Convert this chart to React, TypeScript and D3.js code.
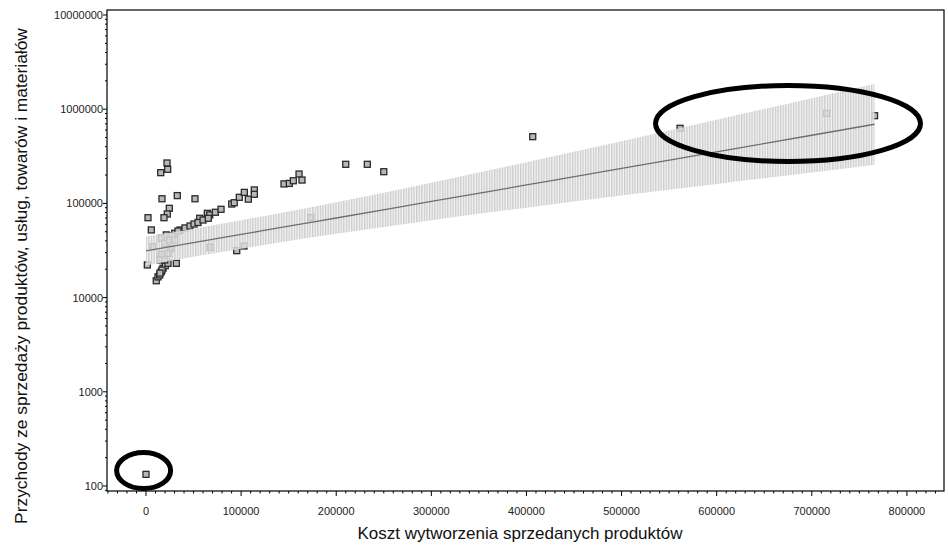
import React from "react";
import * as d3 from "d3";

// koszt (x) i przychody (y) dla kolejnych obserwacji
const costX = [
  0, 22100, 22800, 15500, 16800, 32900, 51500, 24500, 22400, 2100, 18900, 56500,
  64500, 67000, 72900, 78900, 90100, 92800, 98100, 103400, 107600, 113900, 113900,
  145100, 150700, 154900, 160900, 164000, 210000, 232700, 250000, 406600, 561500,
  715800, 766000,
  30200, 35800, 41000, 46300, 50500, 54700, 60000, 65500, 27300, 33600,
  10800, 12600, 14400, 16100, 17900, 20300, 23100, 16800, 14700,
  1400, 31900, 21300, 5600,
  7400, 16100, 19700, 24900, 30200, 26000, 23100, 16100, 15000, 19700, 67300,
  95400, 103000, 173200,
];
const revenueY = [
  133, 268500, 230000, 212000, 112000, 121000, 112000, 88700, 77200, 70500, 70500, 69500,
  78500, 75400, 80500, 86600, 98500, 101700, 116000, 131000, 111000, 139000, 125000,
  161000, 163000, 174000, 205000, 177000, 260000, 260000, 217000, 511000, 627000,
  904000, 853000,
  48200, 52200, 54900, 57500, 60400, 62700, 66600, 69500, 45100, 50900,
  15100, 16600, 17400, 18800, 20500, 21800, 23100, 19600, 18200,
  22200, 23100, 46300, 52300,
  34700, 42700, 37700, 40800, 40800, 33300, 29500, 28800, 25100, 25100, 34200,
  31500, 35300, 70500,
];

// linia dopasowania i pasmo ufności
const fitX = [0, 50000, 100000, 150000, 200000, 300000, 400000, 500000, 600000, 700000, 766000];
const fitY = [31300, 38300, 46800, 57300, 70000, 105000, 157000, 235000, 353000, 529000, 692000];
const bandLow = [21900, 27200, 33100, 40000, 47600, 66400, 90000, 121000, 161000, 213000, 258000];
const bandHigh = [44500, 53800, 66100, 82000, 102800, 166000, 274000, 458000, 774000, 1310000, 1853000];

const xTicks = [0, 100000, 200000, 300000, 400000, 500000, 600000, 700000, 800000];
const yTicks = [100, 1000, 10000, 100000, 1000000, 10000000];

const xDomain = [-41000, 839000];
const yDomain = [88.5, 11300000];

// zaznaczone elipsami obszary: środek (dane), promień x (dane), promień y (dekady)
const circledCx = [-2500, 675000];
const circledCy = [146, 705000];
const circledRx = [28400, 139300];
const circledRyDec = [0.191, 0.403];

const xTitle = "Koszt wytworzenia sprzedanych produktów";
const yTitle = "Przychody ze sprzedaży produktów, usług, towarów i materiałów";

const W = 948;
const H = 548;
const M = { left: 107, right: 4, top: 10, bottom: 57 };
const FONT = "'Liberation Sans', Arial, sans-serif";

export default function App() {
  const x = d3.scaleLinear().domain(xDomain).range([M.left, W - M.right]);
  const y = d3.scaleLog().domain(yDomain).range([H - M.bottom, M.top]);
  const [x0, x1] = x.range();
  const [yb, yt] = y.range();

  const xMinor = d3.range(-40000, xDomain[1] + 1, 10000).filter((v) => v % 100000 !== 0);
  const yMinor: number[] = [];
  [10, 100, 1000, 10000, 100000, 1000000].forEach((d) => {
    for (let k = 2; k <= 9; k++) {
      const v = d * k;
      if (v >= yDomain[0] && v <= yDomain[1]) yMinor.push(v);
    }
  });

  const bandIdx = d3.range(fitX.length);
  const area = d3
    .area<number>()
    .x((i) => x(fitX[i]))
    .y0((i) => y(bandLow[i]))
    .y1((i) => y(bandHigh[i]))
    .curve(d3.curveMonotoneX);
  const line = d3
    .line<number>()
    .x((i) => x(fitX[i]))
    .y((i) => y(fitY[i]))
    .curve(d3.curveMonotoneX);

  const s = 6;

  return (
    <svg
      width={W}
      height={H}
      style={{ position: "absolute", left: 0, top: 0, background: "#fff" }}
      fontFamily={FONT}
    >
      <defs>
        <pattern id="hatch" patternUnits="userSpaceOnUse" width={2.6} height={10}>
          <rect x={0} y={0} width={2.6} height={10} fill="#f0f0f0" opacity={0.75} />
          <rect x={0} y={0} width={1.3} height={10} fill="#cbcbcb" />
        </pattern>
        <clipPath id="plot">
          <rect x={x0} y={yt} width={x1 - x0} height={yb - yt} />
        </clipPath>
      </defs>

      <g clipPath="url(#plot)">
        {costX.map((cx, i) => (
          <rect
            key={i}
            x={x(cx) - s / 2}
            y={y(revenueY[i]) - s / 2}
            width={s}
            height={s}
            fill="#b8b8b8"
            stroke="#2b2b2b"
            strokeWidth={1.3}
          />
        ))}
        <path d={area(bandIdx) || ""} fill="url(#hatch)" />
        <path d={line(bandIdx) || ""} fill="none" stroke="#6e6e6e" strokeWidth={1.3} />
      </g>

      {/* ramka */}
      <rect x={x0} y={yt} width={x1 - x0} height={yb - yt} fill="none" stroke="#000" strokeWidth={1.2} />

      {/* oś X */}
      {xMinor.map((v) => (
        <line key={"xm" + v} x1={x(v)} x2={x(v)} y1={yb} y2={yb + 2.5} stroke="#000" />
      ))}
      {xTicks.map((v) => (
        <g key={"x" + v}>
          <line x1={x(v)} x2={x(v)} y1={yb} y2={yb + 5} stroke="#000" />
          <text x={x(v)} y={yb + 24} textAnchor="middle" fontSize={11} fill="#222">
            {v}
          </text>
        </g>
      ))}

      {/* oś Y */}
      {yMinor.map((v) => (
        <line key={"ym" + v} x1={x0 - 2} x2={x0} y1={y(v)} y2={y(v)} stroke="#000" />
      ))}
      {yTicks.map((v) => (
        <g key={"y" + v}>
          <line x1={x0 - 4} x2={x0} y1={y(v)} y2={y(v)} stroke="#000" />
          <text x={x0 - 4} y={y(v) + 4} textAnchor="end" fontSize={11} fill="#222">
            {v}
          </text>
        </g>
      ))}

      <text x={520} y={539} textAnchor="middle" fontSize={17} fill="#111">
        {xTitle}
      </text>
      <text
        transform={`translate(27,${276}) rotate(-90)`}
        textAnchor="middle"
        fontSize={17.4}
        fill="#111"
      >
        {yTitle}
      </text>

      {/* elipsy */}
      {circledCx.map((cx, i) => {
        const px = x(cx);
        const py = y(circledCy[i]);
        const rx = x(cx + circledRx[i]) - px;
        const ry = py - y(circledCy[i] * Math.pow(10, circledRyDec[i]));
        return (
          <ellipse key={"e" + i} cx={px} cy={py} rx={rx} ry={ry} fill="none" stroke="#000" strokeWidth={5} />
        );
      })}
    </svg>
  );
}
